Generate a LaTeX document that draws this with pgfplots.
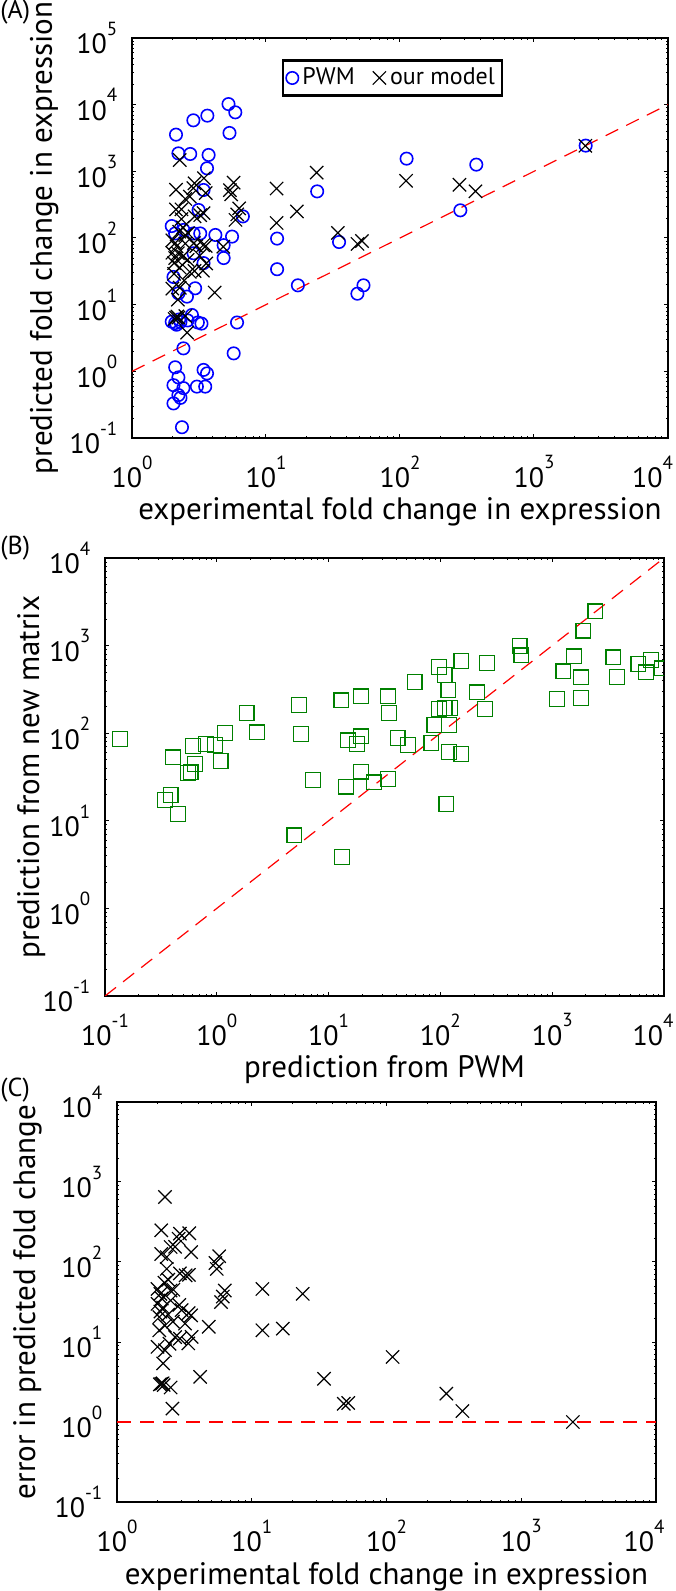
\documentclass[border=0pt]{standalone}
\usepackage{fontspec}
\setmainfont{PT Sans}
\usepackage{pgfplots}
\usepackage{pgfplotstable}
\pgfplotsset{compat=1.18}
\definecolor{mgreen}{RGB}{0,128,0}
\definecolor{mblue}{RGB}{0,0,255}
\definecolor{mred}{RGB}{255,0,0}
\newcommand{\tp}[1]{10\raisebox{0.66em}{\fontsize{9.5}{9.5}\selectfont #1}}

\pgfplotstableread{
x pred err
2.27 1476 650
2.13 530 249
2.93 662 226
3.44 788 229
2.87 560 195
2.5 385 154
2.13 268 126
2.34 269 115
3.55 472 133
5.73 676 118
5.38 522 97
5.5 451 82
2.34 192 82
2.93 211 72
3.23 220 68
3.42 236 69
2.0 92 46
2.5 110 44
6.31 278 44
5.92 187 31.6
6.1 226 37
2.0 60 30
2.2 59 27
2.5 82.5 33
3.02 75.5 25
3.55 76 21.5
2.06 42 20.5
2.27 36 16
2.06 29 14
3.58 41.5 11.6
4.8 74 15.5
2.93 32 11
3.38 32.4 9.6
2.0 17.4 8.7
2.27 17.9 7.9
2.2 11.9 5.4
4.14 15.2 3.67
2.13 6.4 3.0
2.18 6.65 3.05
2.08 6.1 2.95
2.22 6.4 2.9
2.5 6.75 2.7
2.58 3.8 1.47
12 552 46
12 168 14
17 250 14.7
23.9 956 40
34.4 119 3.47
48.2 81.5 1.69
52 90 1.73
111 721 6.5
278 628 2.26
366 501 1.37
2417 2417 1.0
2.7 418 155
3.2 54 17
3.4 78 23
2.9 84 29
2.62 118 45
2.1 84 40
2.25 124 55
2.4 144 60
2.15 75 35
2.4 53 22
2.6 47 18
2.7 31 11.5
2.45 23 9.5
2.1 50 24
}\modeldata

\pgfplotstableread{
x y
5.25 10200
5.9 7670
2.87 5820
3.65 6840
2.13 3550
5.34 3760
2.22 1860
2.72 1820
3.73 1760
3.63 1110
3.42 525
24.1 500
3.14 263
6.72 211
1.98 151
2.1 117
2.42 132
2.88 117
3.23 117
4.19 111
5.58 105
4.83 78
4.83 50
3.42 42
2.88 59
2.04 26
2.96 17.6
2.22 14.8
2.57 13.2
2.8 7
1.98 5.56
2.1 5.3
2.15 5.0
2.25 6.0
2.3 5.5
2.6 5.8
3.1 5.4
3.3 5.2
6.08 5.4
2.42 2.21
5.74 1.86
2.1 1.15
2.22 0.81
2.04 0.62
2.42 0.56
2.22 0.44
2.3 0.4
2.04 0.33
3.42 1.05
3.63 0.93
3.05 0.59
3.52 0.59
2.36 0.145
12.1 98
12.1 34
35.1 87
17.3 19.5
48.1 14.6
53.4 19.5
112 1550
371 1260
282 260
2430 2430
}\pwmdata

\pgfplotstableread{
x y
0.136 86
0.344 17.3
0.386 19.8
0.45 11.9
0.408 52.8
0.582 35.6
0.556 35
0.638 44.4
0.614 71.8
0.805 75.6
0.962 73.7
1.08 48.4
1.19 100
1.85 169
2.29 102
5.43 211
5.65 97.5
4.95 6.8
7.28 29.4
13.0 237
19.5 263
14.9 82.6
19.5 91.9
18.0 75.7
14.3 24.6
19.5 36.5
13.2 3.84
25.5 27.4
34.2 29.9
34.2 263
34.7 169
41.4 87.9
51.0 73.7
58.7 383
83.0 77
88.3 125
97 569
109 465
118 313
97 188
109 193
122 193
120 125
120 60.8
154 58.2
113 15.6
154 672
213 292
251 188
261 631
511 995
531 773
1107 247
1262 507
1567 753
1800 434
1800 252
1900 1480
2434 2460
3524 733
3805 437
5912 615
6905 494
7635 690
9600 550
}\matrixdata

\pgfplotsset{
  panel/.style={
    scale only axis, anchor=south west,
    tick align=inside, xtick pos=both, ytick pos=both,
    major tick length=1.8pt, minor tick length=1pt,
    major tick style={black, line width=0.5pt},
    minor tick style={black, line width=0.4pt},
    axis line style={line width=0.75pt},
    tick label style={font=\fontsize{14}{14}\selectfont},
    label style={font=\fontsize{15.5}{17}\selectfont},
    yticklabel style={xshift=-3.8pt},
    xticklabel style={yshift=-5.3pt},
    clip marker paths=true,
  },
}

\begin{document}
\begin{tikzpicture}
\path[use as bounding box] (0,0) rectangle (337.5pt,795.5pt);

% ---------------- (A)
\begin{loglogaxis}[panel, at={(66pt,576.5pt)}, width=268pt, height=200pt,
  xmin=1, xmax=10000,
  xtick={1,10,100,1000,10000},
  xticklabels={\tp{0},\tp{1},\tp{2},\tp{3},\tp{4}\hspace*{15.5pt}},
  minor xtick={2,3,4,5,6,7,8,9,20,30,40,50,60,70,80,90,200,300,400,500,600,700,800,900,2000,3000,4000,5000,6000,7000,8000,9000},
  ymin=0.1, ymax=100000,
  ytick={0.1,1,10,100,1000,10000,100000},
  yticklabels={\tp{-1},\tp{0},\tp{1},\tp{2},\tp{3},\tp{4},\tp{5}},
  minor ytick={0.2,0.3,0.4,0.5,0.6,0.7,0.8,0.9,2,3,4,5,6,7,8,9,20,30,40,50,60,70,80,90,200,300,400,500,600,700,800,900,2000,3000,4000,5000,6000,7000,8000,9000,20000,30000,40000,50000,60000,70000,80000,90000},
  xlabel={experimental fold change in expression},
  ylabel={predicted fold change in expression},
  xlabel style={at={(axis description cs:0.5,-0.205)}, anchor=base},
  ylabel style={at={(axis description cs:-0.164,0.5)}, anchor=center},
  legend columns=2,
  legend image code/.code={\draw[mark repeat=2,mark phase=2] plot coordinates {(0pt,0pt)(3.5pt,0pt)(7pt,0pt)};},
  legend style={at={(axis description cs:0.486,0.947)}, anchor=north,
    draw=black, line width=1.2pt, font=\fontsize{12}{12}\selectfont,
    inner xsep=1.5pt, inner ysep=1.8pt,
    /tikz/every even column/.append style={column sep=7pt}},
]
\addplot[mred, line width=0.6pt, dash pattern=on 7pt off 4.5pt, forget plot] coordinates {(1,1) (10000,10000)};
\addplot[only marks, mark=o, mark size=3.1pt, mblue, line width=0.8pt] table[x=x,y=y] {\pwmdata};
\addplot[only marks, mark=x, mark size=4.7pt, black, line width=0.6pt] table[x=x,y=pred] {\modeldata};
\legend{PWM,our model}
\end{loglogaxis}

% ---------------- (B)
\begin{loglogaxis}[panel, at={(52.5pt,297.5pt)}, width=279.5pt, height=219pt,
  xmin=0.1, xmax=10000, ymin=0.1, ymax=10000,
  xtick={0.1,1,10,100,1000,10000},
  xticklabels={\tp{-1},\tp{0},\tp{1},\tp{2},\tp{3},\tp{4}\hspace*{11pt}},
  ytick={0.1,1,10,100,1000,10000},
  yticklabels={\tp{-1},\tp{0},\tp{1},\tp{2},\tp{3},\tp{4}},
  minor xtick={0.2,0.3,0.4,0.5,0.6,0.7,0.8,0.9,2,3,4,5,6,7,8,9,20,30,40,50,60,70,80,90,200,300,400,500,600,700,800,900,2000,3000,4000,5000,6000,7000,8000,9000},
  minor ytick={0.2,0.3,0.4,0.5,0.6,0.7,0.8,0.9,2,3,4,5,6,7,8,9,20,30,40,50,60,70,80,90,200,300,400,500,600,700,800,900,2000,3000,4000,5000,6000,7000,8000,9000},
  xlabel={prediction from PWM},
  ylabel={prediction from new matrix},
  xlabel style={at={(axis description cs:0.5,-0.187)}, anchor=base},
  ylabel style={at={(axis description cs:-0.132,0.5)}, anchor=center},
]
\addplot[mred, line width=0.6pt, dash pattern=on 7pt off 4.5pt] coordinates {(0.1,0.1) (10000,10000)};
\addplot[only marks, mark=square, mark size=3.7pt, mgreen, line width=0.6pt] table[x=x,y=y] {\matrixdata};
\end{loglogaxis}

% ---------------- (C)
\begin{loglogaxis}[panel, at={(58.5pt,44.5pt)}, width=269.5pt, height=200pt,
  xmin=1, xmax=10000,
  xtick={1,10,100,1000,10000},
  xticklabels={\tp{0},\tp{1},\tp{2},\tp{3},\tp{4}\hspace*{12pt}},
  minor xtick={2,3,4,5,6,7,8,9,20,30,40,50,60,70,80,90,200,300,400,500,600,700,800,900,2000,3000,4000,5000,6000,7000,8000,9000},
  ymin=0.1, ymax=10000,
  ytick={0.1,1,10,100,1000,10000},
  yticklabels={\tp{-1},\tp{0},\tp{1},\tp{2},\tp{3},\tp{4}},
  minor ytick={0.2,0.3,0.4,0.5,0.6,0.7,0.8,0.9,2,3,4,5,6,7,8,9,20,30,40,50,60,70,80,90,200,300,400,500,600,700,800,900,2000,3000,4000,5000,6000,7000,8000,9000},
  xlabel={experimental fold change in expression},
  ylabel={error in predicted fold change},
  xlabel style={at={(axis description cs:0.5,-0.205)}, anchor=base},
  ylabel style={at={(axis description cs:-0.166,0.5)}, anchor=center},
]
\addplot[mred, line width=0.6pt, dash pattern=on 7pt off 4.5pt] coordinates {(1,1) (10000,1)};
\addplot[only marks, mark=x, mark size=4.7pt, black, line width=0.6pt] table[x=x,y=err] {\modeldata};
\end{loglogaxis}

\node[anchor=north west, inner sep=0pt, font=\fontsize{13}{13}\selectfont] at (0,795.5pt) {(A)};
\node[anchor=west, inner sep=0pt, font=\fontsize{13}{13}\selectfont] at (0,521.5pt) {(B)};
\node[anchor=west, inner sep=0pt, font=\fontsize{13}{13}\selectfont] at (0,250.5pt) {(C)};
\end{tikzpicture}
\end{document}
